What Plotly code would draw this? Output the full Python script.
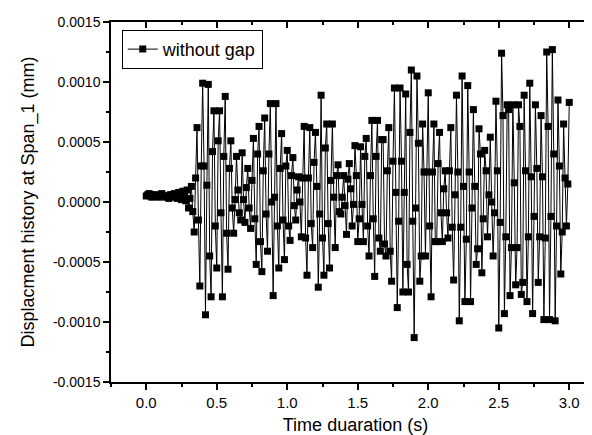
import plotly.graph_objects as go

# ---------------- data ----------------
time_step_s = 0.01
# displacement at Span_1, in units of 1e-5 mm, one value per 0.01 s from 0.00 s to 3.00 s
disp_1e5mm = [
    5, 6, 7, 5, 4, 6, 6, 5, 5, 4,
    6, 7, 5, 5, 4, 5, 3, 6, 6, 4,
    7, 5, 3, 8, 6, 2, 9, 4, 1, 10,
    -5, 3, 13, -8, -25, 20, 62, -15, -70, 30,
    99, 30, -94, 14, 98, -45, -79, 42, 76, -20,
    -55, 51, 76, -9, -79, 38, 88, -26, -56, 28,
    51, -5, -26, 2, 38, 10, -9, -15, 41, 2,
    -17, 12, 28, -5, -22, 18, 53, -14, -52, 40,
    63, -33, -58, 26, 70, -10, -41, 40, 82, 0,
    -78, 4, 82, -20, -55, 28, 57, -15, -48, 30,
    43, -20, -32, 22, 37, -3, -15, 10, 21, 0,
    -29, 20, 63, -30, -61, 20, 62, -18, -38, 33,
    58, 13, -71, -10, 89, -30, -61, 45, 65, -18,
    -55, 18, 65, 4, -38, 22, 31, -8, -10, 4,
    22, -3, -27, 19, 32, 11, -20, -2, 47, 22,
    -33, -14, 46, -2, -33, 38, 53, -20, -45, 22,
    68, -14, -62, 38, 68, -30, -41, 52, 52, -35,
    -45, 26, 62, -41, -66, 34, 95, 8, -88, -16,
    95, 34, -75, 8, 90, -52, -75, 58, 110, -16,
    -113, -5, 105, 49, -66, -45, 65, 25, -45, 25,
    91, -20, -79, 25, 65, -33, -33, 32, 58, -9,
    -33, 11, 26, -9, -30, 26, 62, -21, -65, 6,
    89, 25, -99, -21, 105, 13, -83, -31, 97, 25,
    -83, -5, 77, 13, -52, -39, 61, 40, -59, -14,
    43, 26, -29, 6, 54, 0, -45, -9, 84, 26,
    -105, -17, 124, 72, -93, -29, 81, 77, -78, -38,
    81, 16, -69, -38, 81, 63, -77, -67, 89, 26,
    -83, -29, 99, 21, -93, -12, 81, 28, -67, -29,
    72, 21, -98, -30, 125, 63, -98, -12, 127, 40,
    -99, -20, 85, 30, -60, -25, 65, 20, -20, 15,
    83,
]
series_name = "without gap"

x_tick_values = [0.0, 0.5, 1.0, 1.5, 2.0, 2.5, 3.0]
x_tick_labels = ["0.0", "0.5", "1.0", "1.5", "2.0", "2.5", "3.0"]
y_tick_values = [-0.0015, -0.0010, -0.0005, 0.0, 0.0005, 0.0010, 0.0015]
y_tick_labels = ["-0.0015", "-0.0010", "-0.0005", "0.0000", "0.0005", "0.0010", "0.0015"]

x_title = "Time duaration (s)"
y_title = "Displacment history at Span_1 (mm)"

# ---------------- figure ----------------
time_s = [round(i * time_step_s, 2) for i in range(len(disp_1e5mm))]
disp_mm = [v * 1e-5 for v in disp_1e5mm]

FONT = "Liberation Sans, Arial, sans-serif"
XR = [-0.25, 3.218]
YR = [-0.0015, 0.0015]

fig = go.Figure()
fig.add_trace(go.Scatter(
    x=time_s, y=disp_mm, name=series_name, mode="lines+markers",
    line=dict(color="black", width=1),
    marker=dict(symbol="square", size=7, color="black"),
))
# helper trace so the top axis (inward ticks) is drawn
fig.add_trace(go.Scatter(x=[XR[0]], y=[YR[0]], xaxis="x2", yaxis="y",
                         mode="markers", marker=dict(opacity=0),
                         showlegend=False, hoverinfo="skip"))

common = dict(showgrid=False, zeroline=False, linecolor="black", linewidth=1.5,
              tickcolor="black", tickwidth=1.5, color="black")

fig.update_layout(
    width=592, height=435,
    margin=dict(l=103, r=0, t=14, b=61),
    paper_bgcolor="white", plot_bgcolor="white",
    font=dict(family=FONT, size=15, color="black"),
    showlegend=True,
    legend=dict(x=0.022, y=0.978, xanchor="left", yanchor="top",
                bordercolor="black", borderwidth=1, bgcolor="white",
                font=dict(size=18, family=FONT)),
    xaxis=dict(range=XR, tickvals=x_tick_values, ticktext=x_tick_labels,
               ticks="outside", ticklen=6, tickfont=dict(size=15),
               minor=dict(dtick=0.25, tick0=0, ticks="outside", ticklen=3,
                          tickcolor="black", tickwidth=1.5),
               title=dict(text=x_title, font=dict(size=18), standoff=9),
               showline=True, **common),
    yaxis=dict(range=YR, tickvals=y_tick_values, ticktext=y_tick_labels,
               ticks="outside", ticklen=6, tickfont=dict(size=14),
               minor=dict(dtick=0.00025, tick0=0, ticks="outside", ticklen=3,
                          tickcolor="black", tickwidth=1.5),
               title=dict(text=y_title, font=dict(size=18), standoff=14),
               showline=True, **common),
    xaxis2=dict(range=XR, overlaying="x", side="top", anchor="y",
                tickvals=x_tick_values, showticklabels=False,
                ticks="inside", ticklen=6,
                minor=dict(dtick=0.25, tick0=0, ticks="inside", ticklen=3,
                           tickcolor="black", tickwidth=1.5),
                showline=True, **common),
)

fig.write_html("out.html")
